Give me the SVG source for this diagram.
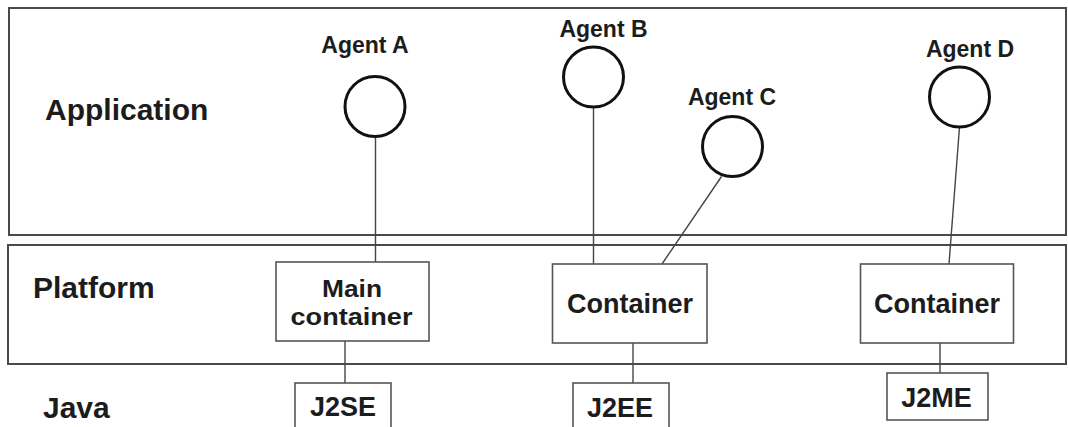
<svg xmlns="http://www.w3.org/2000/svg" width="1068" height="427" viewBox="0 0 1068 427">
  <style>
    .layer { fill: none; stroke: #4a4a4a; stroke-width: 2; }
    .box { fill: #ffffff; stroke: #555555; stroke-width: 1.6; }
    .agent { fill: #ffffff; stroke: #111111; stroke-width: 3; }
    .link { fill: none; stroke: #444444; stroke-width: 1.4; }
    text { font-family: "Liberation Sans", Arial, sans-serif; font-weight: bold; fill: #1c1c1c; }
    .layer-label { font-size: 30px; }
    .agent-label { font-size: 23px; text-anchor: middle; }
    .box-label { font-size: 27px; text-anchor: middle; }
    .box-label-sm { font-size: 24px; text-anchor: middle; }
  </style>

  <rect width="1068" height="427" fill="#ffffff"/>

  <!-- Layer bands -->
  <g id="layer-application">
    <rect class="layer" x="9" y="8" width="1057" height="227"/>
    <text class="layer-label" x="45" y="120">Application</text>
  </g>
  <g id="layer-platform">
    <rect class="layer" x="8" y="245" width="1058" height="119"/>
    <text class="layer-label" x="33" y="298">Platform</text>
  </g>
  <g id="layer-java">
    <text class="layer-label" x="43" y="418">Java</text>
  </g>

  <!-- Connectors -->
  <g id="connectors">
    <line class="link" x1="375.5" y1="137" x2="375.5" y2="262"/>
    <line class="link" x1="593.5" y1="107" x2="593.5" y2="264"/>
    <line class="link" x1="721.5" y1="176.5" x2="662" y2="264"/>
    <line class="link" x1="959.5" y1="127" x2="949" y2="264"/>
    <line class="link" x1="345" y1="341" x2="345" y2="383"/>
    <line class="link" x1="633" y1="343" x2="633" y2="383"/>
    <line class="link" x1="940" y1="343" x2="940" y2="373"/>
  </g>

  <!-- Agents -->
  <g id="agent-a">
    <circle class="agent" cx="375" cy="106.5" r="30"/>
    <text class="agent-label" x="365" y="53">Agent A</text>
  </g>
  <g id="agent-b">
    <circle class="agent" cx="593.5" cy="77" r="30"/>
    <text class="agent-label" x="603.5" y="37">Agent B</text>
  </g>
  <g id="agent-c">
    <circle class="agent" cx="732.5" cy="146.5" r="30"/>
    <text class="agent-label" x="732" y="105">Agent C</text>
  </g>
  <g id="agent-d">
    <circle class="agent" cx="959.5" cy="97" r="30"/>
    <text class="agent-label" x="970" y="57">Agent D</text>
  </g>

  <!-- Containers -->
  <g id="main-container">
    <rect class="box" x="276" y="262" width="153" height="79"/>
    <text class="box-label-sm" x="352" y="297" textLength="60" lengthAdjust="spacingAndGlyphs">Main</text>
    <text class="box-label-sm" x="351.5" y="325" textLength="122" lengthAdjust="spacingAndGlyphs">container</text>
  </g>
  <g id="container-1">
    <rect class="box" x="552.5" y="264" width="154.5" height="79"/>
    <text class="box-label" x="630" y="313">Container</text>
  </g>
  <g id="container-2">
    <rect class="box" x="860.5" y="264" width="153" height="79"/>
    <text class="box-label" x="937" y="313">Container</text>
  </g>

  <!-- Java editions -->
  <g id="j2se">
    <rect class="box" x="295" y="383" width="96" height="60"/>
    <text class="box-label" x="343" y="416">J2SE</text>
  </g>
  <g id="j2ee">
    <rect class="box" x="573" y="383" width="96" height="60"/>
    <text class="box-label" x="620" y="417">J2EE</text>
  </g>
  <g id="j2me">
    <rect class="box" x="887" y="373" width="101" height="47"/>
    <text class="box-label" x="936.5" y="407">J2ME</text>
  </g>
</svg>
